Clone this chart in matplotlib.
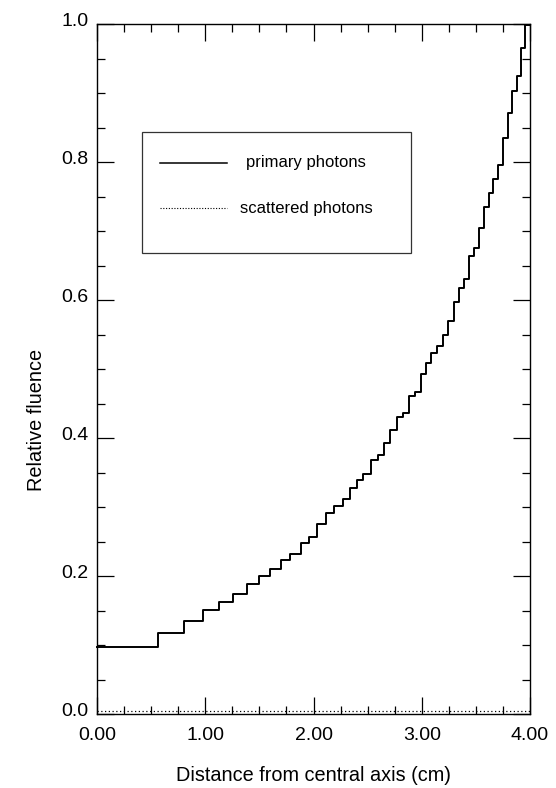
import matplotlib
matplotlib.use('Agg')
import matplotlib.pyplot as plt
import matplotlib.transforms as mtransforms
from matplotlib.lines import Line2D
from matplotlib.patches import Rectangle
from matplotlib.ticker import MultipleLocator, FormatStrFormatter

plt.rcParams['font.family'] = ['Liberation Sans', 'DejaVu Sans']

# step edges (cm) and relative fluence level starting at each edge
edges = [0.00, 0.56, 0.80, 0.98, 1.13, 1.26, 1.39, 1.50, 1.60, 1.70,
         1.78, 1.88, 1.96, 2.03, 2.12, 2.19, 2.27, 2.34, 2.40, 2.46,
         2.53, 2.60, 2.65, 2.71, 2.77, 2.83, 2.88, 2.94, 2.99, 3.04,
         3.09, 3.14, 3.20, 3.24, 3.30, 3.34, 3.39, 3.44, 3.48, 3.53,
         3.575, 3.62, 3.66, 3.70, 3.75, 3.80, 3.83, 3.88, 3.92, 3.955, 4.00]
primary = [0.097, 0.117, 0.135, 0.151, 0.162, 0.174, 0.188, 0.200, 0.210, 0.223,
           0.232, 0.248, 0.257, 0.275, 0.291, 0.301, 0.312, 0.328, 0.339, 0.348,
           0.368, 0.375, 0.393, 0.412, 0.430, 0.436, 0.461, 0.467, 0.493, 0.509,
           0.523, 0.533, 0.549, 0.570, 0.597, 0.618, 0.630, 0.664, 0.675, 0.704,
           0.735, 0.755, 0.775, 0.796, 0.835, 0.871, 0.903, 0.925, 0.965, 0.998]
scattered_x = [0.0, 4.0]
scattered = [0.005, 0.005]

xticks = [0, 1, 2, 3, 4]
yticks = [0.0, 0.2, 0.4, 0.6, 0.8, 1.0]

fig = plt.figure(figsize=(5.56, 7.88), dpi=100)
ax = fig.add_axes([0.1745, 0.0939, 0.7787, 0.8756])

ax.step(edges, primary + [primary[-1]], where='post', color='black', lw=1.4, clip_on=False)
ax.plot(scattered_x, scattered, color='black', lw=0.9, linestyle=(0, (1, 2)))

ax.set_xlim(0, 4)
ax.set_ylim(0, 1.0)
ax.set_xticks(xticks)
ax.set_yticks(yticks)
ax.xaxis.set_major_formatter(FormatStrFormatter('%.2f'))
ax.yaxis.set_major_formatter(FormatStrFormatter('%.1f'))
ax.xaxis.set_minor_locator(MultipleLocator(0.25))
ax.yaxis.set_minor_locator(MultipleLocator(0.05))
ax.tick_params(which='both', direction='in', top=True, right=True, width=0.9, colors='black')
ax.tick_params(which='major', length=12, labelsize=14)
ax.tick_params(which='minor', length=6)
ax.tick_params(axis='x', which='major', pad=9)
ax.tick_params(axis='y', which='major', pad=6)
for sp in ax.spines.values():
    sp.set_linewidth(1.0)

# y tick labels sit a little above their ticks in the original
shift = mtransforms.ScaledTranslation(0, 5 / 100, fig.dpi_scale_trans)
for lab in ax.get_yticklabels():
    lab.set_transform(lab.get_transform() + shift)

ax.set_xlabel('Distance from central axis (cm)', fontsize=14.3)
ax.xaxis.set_label_coords(0.5, -0.076)
ax.set_ylabel('Relative fluence', fontsize=14.3)
ax.yaxis.set_label_coords(-0.118, 0.426)

# legend box drawn by hand (text is centred in the original)
ax.add_patch(Rectangle((0.104, 0.668), 0.621, 0.175, transform=ax.transAxes,
                       fill=False, edgecolor='#333333', lw=0.9))
ax.add_line(Line2D([0.145, 0.300], [0.799, 0.799], transform=ax.transAxes,
                   color='black', lw=1.1))
ax.add_line(Line2D([0.145, 0.300], [0.733, 0.733], transform=ax.transAxes,
                   color='black', lw=0.8, linestyle=(0, (1, 1.5))))
ax.text(0.483, 0.799, 'primary photons', transform=ax.transAxes,
        ha='center', va='center', fontsize=12)
ax.text(0.483, 0.733, 'scattered photons', transform=ax.transAxes,
        ha='center', va='center', fontsize=12)

fig.savefig('out.png', dpi=100)
